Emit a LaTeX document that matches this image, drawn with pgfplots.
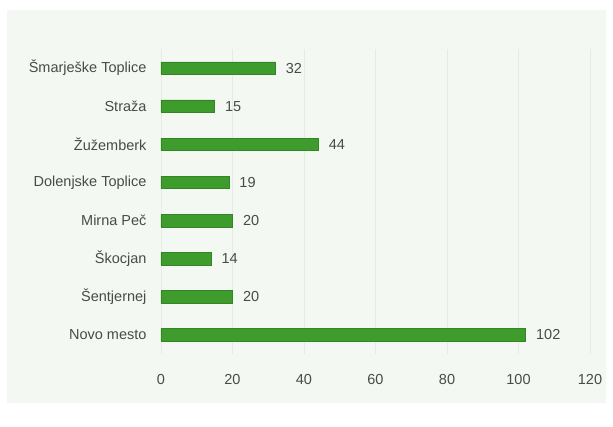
\documentclass[border=0pt]{standalone}
\usepackage{fontspec}
\setmainfont{Liberation Sans}
\usepackage{pgfplots}
\pgfplotsset{compat=1.18}
\definecolor{bargreen}{HTML}{3E9C2D}
\definecolor{panelbg}{HTML}{F4F8F2}
\definecolor{txtgray}{HTML}{4A4A4A}
\definecolor{gridc}{HTML}{E6EBE4}

\begin{document}
\begin{tikzpicture}[x=1pt,y=1pt]
\useasboundingbox[fill=white] (0,0) rectangle (613,426);
\fill[panelbg] (7,23) rectangle (606,416);
\begin{axis}[
  at={(161pt,72pt)}, anchor=south west,
  scale only axis, width=429pt, height=305pt,
  xbar, bar width=12.5pt,
  xmin=0, xmax=120, ymin=-0.5, ymax=7.5,
  axis line style={draw=none},
  major tick length=0pt,
  xtick={0,20,...,120},
  ytick={0,...,7},
  yticklabels={Novo mesto,Šentjernej,Škocjan,Mirna Peč,Dolenjske Toplice,Žužemberk,Straža,Šmarješke Toplice},
  xmajorgrids, grid style={gridc, line width=0.8pt},
  tick label style={font=\fontsize{14.5}{16}\selectfont, text=txtgray},
  xticklabel style={yshift=-17pt},
  yticklabel style={xshift=-11pt},
  /pgf/number format/assume math mode=true,
  nodes near coords,
  nodes near coords style={font=\fontsize{14.5}{16}\selectfont, text=txtgray, anchor=west, xshift=7pt},
]
\addplot[fill=bargreen, draw=bargreen!85!black, line width=0.4pt] coordinates {
  (102,0) (20,1) (14,2) (20,3) (19,4) (44,5) (15,6) (32,7)
};
\end{axis}
\end{tikzpicture}
\end{document}
